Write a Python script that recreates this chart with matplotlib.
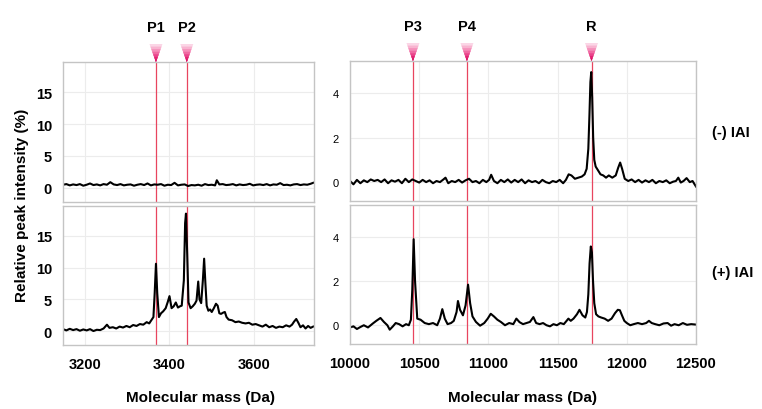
import matplotlib.pyplot as plt
from matplotlib.patches import Polygon
import matplotlib.transforms as mtransforms

plt.rcParams['font.family'] = ['Liberation Sans', 'DejaVu Sans']

# ---- data ----
# low mass window, (-) IAI
low_neg_mass = [3148, 3156, 3164, 3172, 3180, 3188, 3196, 3204, 3212, 3220,
                3228, 3236, 3244, 3252, 3260, 3268, 3276, 3284, 3292, 3300,
                3308, 3316, 3324, 3332, 3340, 3348, 3356, 3364, 3372, 3380,
                3388, 3396, 3404, 3412, 3420, 3428, 3436, 3444, 3452, 3460,
                3468, 3476, 3484, 3492, 3500, 3508, 3512, 3518, 3526, 3534,
                3542, 3550, 3558, 3566, 3574, 3582, 3590, 3598, 3606, 3614,
                3622, 3630, 3638, 3646, 3654, 3662, 3670, 3678, 3686, 3694,
                3702, 3710, 3718, 3726, 3734, 3740]
low_neg_int = [0.5, 0.6, 0.4, 0.55, 0.45, 0.6, 0.35, 0.5, 0.7, 0.45,
               0.55, 0.4, 0.6, 0.5, 0.9, 0.55, 0.45, 0.6, 0.4, 0.5,
               0.55, 0.35, 0.5, 0.6, 0.45, 0.7, 0.4, 0.55, 0.5, 0.6,
               0.35, 0.5, 0.45, 0.8, 0.4, 0.5, 0.55, 0.3, 0.45, 0.4,
               0.5, 0.35, 0.6, 0.45, 0.5, 0.4, 1.2, 0.55, 0.6, 0.45,
               0.5, 0.6, 0.4, 0.55, 0.45, 0.5, 0.65, 0.4, 0.5, 0.55,
               0.45, 0.6, 0.4, 0.55, 0.5, 0.75, 0.45, 0.5, 0.4, 0.55,
               0.6, 0.45, 0.55, 0.5, 0.65, 0.8]

# low mass window, (+) IAI
low_pos_mass = [3148, 3156, 3164, 3172, 3180, 3188, 3196, 3204, 3212, 3220,
                3228, 3236, 3244, 3252, 3258, 3266, 3274, 3282, 3290, 3298,
                3306, 3314, 3322, 3330, 3338, 3346, 3352, 3358, 3362, 3365,
                3368, 3371, 3375, 3380, 3385, 3391, 3396, 3400, 3405, 3410,
                3415, 3420, 3425, 3429, 3434, 3437, 3439, 3442, 3445, 3450,
                3455, 3460, 3464, 3468, 3471, 3475, 3479, 3482, 3485, 3488,
                3492, 3496, 3500, 3505, 3510, 3514, 3518, 3522, 3527, 3531,
                3535, 3540, 3548, 3556, 3564, 3572, 3580, 3588, 3596, 3604,
                3612, 3620, 3628, 3636, 3644, 3652, 3660, 3668, 3676, 3684,
                3690, 3695, 3700, 3705, 3710, 3716, 3722, 3728, 3734, 3740]
low_pos_int = [0.3, 0.1, 0.35, 0.15, 0.3, 0.05, 0.25, 0.1, 0.3, 0.0,
               0.2, 0.15, 0.4, 1.0, 0.5, 0.6, 0.4, 0.7, 0.55, 0.8,
               0.6, 0.95, 0.8, 1.1, 1.0, 1.4, 1.2, 1.8, 2.2, 6.0,
               10.6, 6.0, 2.2, 2.8, 3.1, 3.6, 4.6, 5.5, 3.6, 3.9,
               4.5, 3.7, 3.9, 4.0, 8.0, 17.0, 18.5, 12.0, 4.5, 3.6,
               3.9, 4.3, 4.8, 7.8, 5.0, 4.4, 8.0, 11.4, 7.5, 4.0,
               3.2, 3.4, 3.0, 3.6, 4.3, 4.0, 2.8, 2.7, 2.9, 3.0,
               2.2, 1.8, 1.7, 1.4, 1.5, 1.3, 1.2, 1.3, 1.0, 1.1,
               0.9, 0.7, 1.0, 0.6, 0.8, 0.5, 0.7, 0.6, 0.9, 0.7,
               1.0, 1.5, 1.9, 1.3, 0.6, 0.9, 0.4, 0.8, 0.5, 0.7]

# high mass window, (-) IAI
high_neg_mass = [10000, 10025, 10050, 10075, 10100, 10125, 10150, 10175, 10200, 10225,
                 10250, 10275, 10300, 10325, 10350, 10375, 10400, 10425, 10450, 10475,
                 10500, 10525, 10550, 10575, 10600, 10625, 10650, 10675, 10690, 10710,
                 10735, 10760, 10785, 10810, 10835, 10860, 10885, 10910, 10935, 10960,
                 10985, 11005, 11020, 11040, 11065, 11090, 11115, 11140, 11165, 11190,
                 11215, 11240, 11265, 11290, 11315, 11340, 11365, 11390, 11415, 11440,
                 11465, 11490, 11515, 11540, 11560, 11580, 11600, 11625, 11650, 11675,
                 11695, 11710, 11722, 11730, 11737, 11743, 11750, 11757, 11765, 11775,
                 11790, 11810, 11830, 11850, 11870, 11895, 11920, 11938, 11952, 11966,
                 11985, 12010, 12035, 12060, 12085, 12110, 12135, 12160, 12185, 12210,
                 12235, 12260, 12285, 12310, 12335, 12355, 12372, 12390, 12410, 12432,
                 12455, 12475, 12500]
high_neg_int = [0.05, -0.1, 0.1, -0.05, 0.08, 0.0, 0.12, 0.05, 0.1, 0.0,
                0.12, -0.05, 0.08, 0.02, 0.1, -0.05, 0.15, 0.0, 0.12, 0.05,
                -0.02, 0.1, 0.0, 0.08, -0.05, 0.05, 0.0, 0.12, 0.2, -0.05,
                0.05, 0.0, 0.1, -0.02, 0.08, 0.15, 0.0, 0.05, -0.05, 0.1,
                0.0, 0.1, 0.33, 0.05, -0.05, 0.1, 0.0, 0.12, -0.02, 0.1,
                0.0, 0.12, -0.05, 0.08, 0.0, 0.05, -0.05, 0.1, 0.0, -0.05,
                0.05, 0.0, 0.1, -0.05, 0.1, 0.35, 0.3, 0.15, 0.2, 0.25,
                0.35, 0.6, 1.5, 3.0, 4.5, 4.95, 3.8, 2.0, 1.0, 0.7,
                0.55, 0.35, 0.3, 0.2, 0.3, 0.2, 0.3, 0.65, 0.88, 0.6,
                0.15, 0.05, 0.12, 0.0, 0.1, -0.02, 0.08, 0.0, 0.1, -0.05,
                0.05, 0.0, 0.08, -0.05, 0.02, 0.05, 0.2, -0.02, 0.05, 0.18,
                0.0, 0.05, -0.2]

# high mass window, (+) IAI
high_pos_mass = [10000, 10025, 10050, 10075, 10100, 10130, 10165, 10190, 10220, 10245,
                 10270, 10287, 10310, 10330, 10355, 10380, 10405, 10425, 10440, 10450,
                 10460, 10470, 10486, 10510, 10540, 10570, 10600, 10630, 10650, 10667,
                 10685, 10705, 10730, 10750, 10770, 10780, 10795, 10816, 10835, 10853,
                 10868, 10885, 10910, 10940, 10970, 10995, 11017, 11040, 11065, 11090,
                 11120, 11150, 11180, 11202, 11225, 11250, 11275, 11300, 11325, 11345,
                 11370, 11395, 11420, 11445, 11470, 11495, 11520, 11545, 11565, 11578,
                 11595, 11615, 11640, 11658, 11680, 11700, 11712, 11722, 11731, 11740,
                 11748, 11756, 11765, 11778, 11795, 11815, 11840, 11865, 11890, 11915,
                 11935, 11950, 11965, 11982, 12000, 12025, 12050, 12080, 12110, 12140,
                 12160, 12180, 12205, 12235, 12265, 12295, 12320, 12345, 12375, 12405,
                 12435, 12465, 12500]
high_pos_int = [-0.1, -0.05, -0.17, -0.08, 0.0, -0.1, 0.08, 0.2, 0.33, 0.15,
                0.0, -0.2, -0.05, 0.1, 0.05, -0.05, 0.05, 0.0, 0.25, 1.6,
                3.9, 2.0, 0.3, 0.25, 0.1, 0.05, 0.1, 0.0, 0.3, 0.73,
                0.3, 0.05, 0.1, 0.2, 0.6, 1.1, 0.7, 0.45, 0.9, 1.84,
                1.0, 0.4, 0.15, -0.02, 0.1, 0.3, 0.52, 0.4, 0.25, 0.15,
                0.0, 0.1, 0.05, 0.3, 0.14, 0.05, 0.1, 0.15, 0.37, 0.1,
                0.05, 0.1, 0.0, -0.05, 0.05, 0.0, 0.1, 0.05, 0.2, 0.3,
                0.2, 0.3, 0.5, 0.7, 0.45, 0.35, 0.6, 1.4, 2.8, 3.57,
                3.3, 2.0, 1.0, 0.5, 0.4, 0.35, 0.3, 0.2, 0.3, 0.55,
                0.7, 0.68, 0.45, 0.2, 0.1, 0.0, 0.05, 0.1, 0.05, 0.1,
                0.2, 0.1, 0.05, 0.0, 0.08, 0.1, -0.02, 0.05, 0.0, 0.1,
                0.02, 0.05, 0.03]

low_marks = [3368, 3441]
low_mark_labels = ["P1", "P2"]
high_marks = [10455, 10845, 11745]
high_mark_labels = ["P3", "P4", "R"]

low_xlim = (3148, 3742)
high_xlim = (10000, 12500)
low_ylim = (-2.2, 19.7)
high_ylim = (-0.85, 5.45)

W, H = 762, 410
fig = plt.figure(figsize=(W / 100, H / 100), dpi=100)


def box(x0, y0, x1, y1):
    return [x0 / W, 1 - y1 / H, (x1 - x0) / W, (y1 - y0) / H]


ax_ln = fig.add_axes(box(63, 63, 314, 203))
ax_lp = fig.add_axes(box(63, 207, 314, 346))
ax_hn = fig.add_axes(box(350, 62, 696, 202))
ax_hp = fig.add_axes(box(350, 206, 696, 345))

line_red = "#e8455f"
tri_cols = ["#fbd6e6", "#f8b4d0", "#f590ba", "#f06aa3", "#ea448b", "#e22372", "#d80a5e"]


def style(ax, xlim, ylim, xticks, yticks, show_x, ybold, ysize):
    ax.set_xlim(*xlim)
    ax.set_ylim(*ylim)
    ax.set_xticks(xticks)
    ax.set_yticks(yticks)
    ax.grid(True, color="#ececec", lw=0.8)
    ax.set_axisbelow(True)
    for s in ax.spines.values():
        s.set_color("#c4c4c4")
        s.set_linewidth(1.0)
    ax.tick_params(length=0, pad=8)
    for lab in ax.get_yticklabels():
        lab.set_fontsize(ysize)
        lab.set_fontweight("bold" if ybold else "normal")
    if show_x:
        for lab in ax.get_xticklabels():
            lab.set_fontsize(10.5)
            lab.set_fontweight("bold")
        ax.tick_params(axis="x", pad=9)
    else:
        ax.set_xticklabels([])


style(ax_ln, low_xlim, low_ylim, [3200, 3400, 3600], [0, 5, 10, 15], False, True, 10.5)
style(ax_lp, low_xlim, low_ylim, [3200, 3400, 3600], [0, 5, 10, 15], True, True, 10.5)
style(ax_hn, high_xlim, high_ylim, [10000, 10500, 11000, 11500, 12000, 12500], [0, 2, 4], False, False, 8)
style(ax_hp, high_xlim, high_ylim, [10000, 10500, 11000, 11500, 12000, 12500], [0, 2, 4], True, False, 8)

ax_ln.plot(low_neg_mass, low_neg_int, color="black", lw=1.5)
ax_lp.plot(low_pos_mass, low_pos_int, color="black", lw=1.5)
ax_hn.plot(high_neg_mass, high_neg_int, color="black", lw=1.5)
ax_hp.plot(high_pos_mass, high_pos_int, color="black", lw=1.5)

# red marker lines through both panels
for ax in (ax_ln, ax_lp):
    for m in low_marks:
        ax.axvline(m, color=line_red, lw=0.9, zorder=1)
for ax in (ax_hn, ax_hp):
    for m in high_marks:
        ax.axvline(m, color=line_red, lw=0.9, zorder=1)


def triangles(ax, marks, labels, xlim):
    trans = mtransforms.blended_transform_factory(ax.transData, ax.transAxes)
    span = xlim[1] - xlim[0]
    wpx = ax.get_position().width * W
    half = 6.5 / wpx * span
    hpx = ax.get_position().height * H
    top = 1 + 18 / hpx
    n = len(tri_cols)
    for m, lab in zip(marks, labels):
        for k, c in enumerate(tri_cols):
            f = 1 - k / n
            y_top = 1 + (top - 1) * f
            poly = Polygon([(m - half * f, y_top), (m + half * f, y_top), (m, 1.0)],
                           closed=True, transform=trans, clip_on=False,
                           facecolor=c, edgecolor="none", zorder=5)
            ax.add_patch(poly)
        ax.text(m, 1 + 35 / hpx, lab, transform=trans, ha="center", va="center",
                fontsize=10.5, fontweight="bold")


triangles(ax_ln, low_marks, low_mark_labels, low_xlim)
triangles(ax_hn, high_marks, high_mark_labels, high_xlim)

fig.text(712 / W, 1 - 133 / H, "(-) IAI", ha="left", va="center", fontsize=10.5, fontweight="bold")
fig.text(712 / W, 1 - 273 / H, "(+) IAI", ha="left", va="center", fontsize=10.5, fontweight="bold")
fig.text(22 / W, 1 - 205 / H, "Relative peak intensity (%)", rotation=90,
         ha="center", va="center", fontsize=11, fontweight="bold")
fig.text(200 / W, 1 - 398 / H, "Molecular mass (Da)", ha="center", va="center",
         fontsize=11, fontweight="bold")
fig.text(523 / W, 1 - 398 / H, "Molecular mass (Da)", ha="center", va="center",
         fontsize=11, fontweight="bold")

fig.savefig("out.png", dpi=100)
